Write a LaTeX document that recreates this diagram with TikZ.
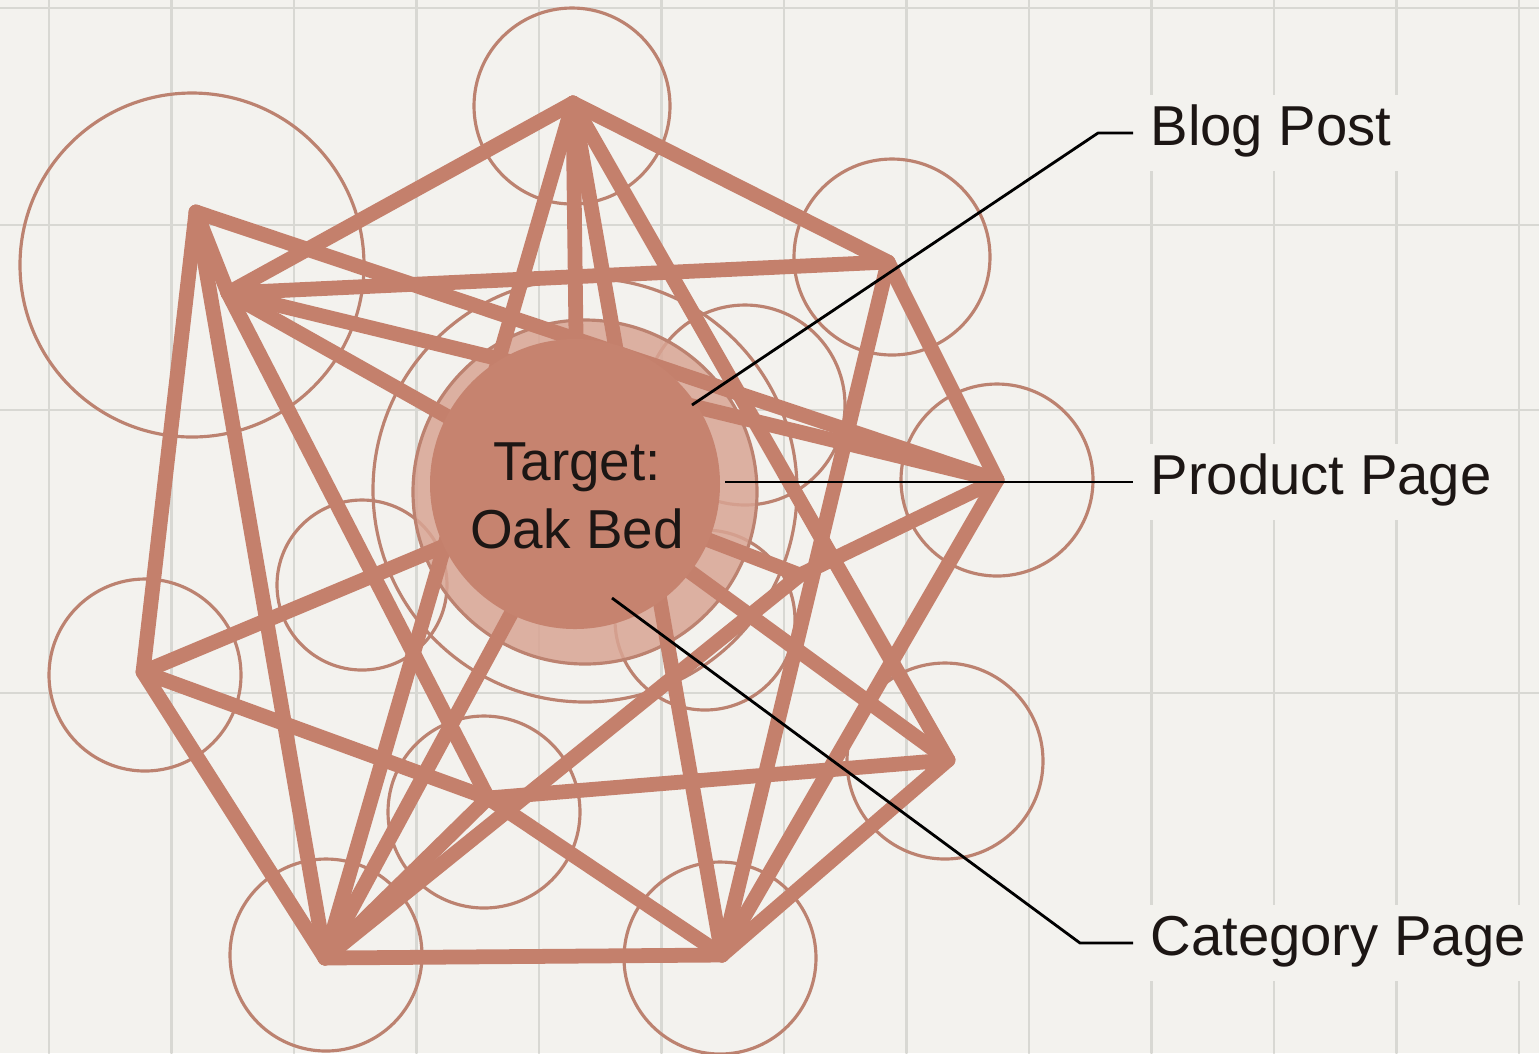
\documentclass[tikz,border=0pt]{standalone}
\usepackage{fontspec}
\setmainfont{Liberation Sans}
\definecolor{paper}{HTML}{F3F2EE}
\definecolor{gridline}{HTML}{D8D8D3}
\definecolor{copper}{HTML}{C4806C}
\definecolor{ringcol}{HTML}{BC8270}
\definecolor{corefill}{HTML}{C6836F}
\definecolor{halofill}{HTML}{D9A594}
\definecolor{inkdark}{HTML}{1C1614}
\tikzset{
	link/.style={copper, line width=4.2pt},
	ring/.style={ringcol, line width=0.9pt},
	leader/.style={black, line width=0.8pt, line cap=butt},
	pagelabel/.style={anchor=west, fill=paper, inner xsep=4.8pt, inner ysep=5pt,
		text height=0.95em, text depth=0.234em, font=\fontsize{16}{19}\selectfont, text=inkdark},
}

\begin{document}
\begin{tikzpicture}[line cap=round,line join=round,x=0.01cm,y=-0.01cm]
	\fill[paper] (0,0) rectangle (1539,1053);
	\useasboundingbox (0,0) rectangle (1539,1053);
	% grid
	\foreach \gx in {0,...,12} \draw[gridline, line width=0.6pt] ({49+122.5*\gx},0) -- ({49+122.5*\gx},1053);
	\foreach \gy in {8,225,410,693} \draw[gridline, line width=0.6pt] (0,\gy) -- (1539,\gy);

	% page points
	\coordinate (top) at (573,103);
	\coordinate (upleft) at (196,212);
	\coordinate (upleftin) at (228,293);
	\coordinate (upright) at (888,262);
	\coordinate (right) at (997,480);
	\coordinate (rightin) at (800,575);
	\coordinate (lowright) at (948,760);
	\coordinate (botright) at (722,955);
	\coordinate (botleft) at (325,958);
	\coordinate (left) at (143,672);
	\coordinate (mid) at (488,798);
	\coordinate (hub) at (578,490);

	% rings round the points
	\draw[ring] (572,106) circle (98);
	\draw[ring] (192,265) circle (172);
	\draw[ring] (892,257) circle (98);
	\draw[ring] (997,480) circle (96);
	\draw[ring] (145,675) circle (96);
	\draw[ring] (326,955) circle (96);
	\draw[ring] (720,958) circle (96);
	\draw[ring] (945,761) circle (98);
	\draw[ring] (484,812) circle (96);
	\draw[ring] (362,585) circle (85);
	\draw[ring] (745,405) circle (100);
	\draw[ring] (705,620) circle (90);
	\draw[ring] (585,490) circle (212);

	% halo
	\fill[halofill, opacity=0.85] (585,492) circle (172);
	\draw[ring] (585,492) circle (172);

	% links
	\draw[link] (top) -- (upright) -- (right) -- (rightin) -- (hub);
	\draw[link] (top) -- (upleftin) -- (upleft) -- (left) -- (botleft) -- (botright) -- (lowright) -- (mid) -- (left);
	\draw[link] (top) -- (hub);
	\draw[link] (top) -- (botleft);
	\draw[link] (top) -- (botright);
	\draw[link] (top) -- (lowright);
	\draw[link] (upleft) -- (botleft);
	\draw[link] (upleft) -- (right);
	\draw[link] (upleftin) -- (right);
	\draw[link] (upleftin) -- (upright);
	\draw[link] (upleftin) -- (hub);
	\draw[link] (upleftin) -- (mid);
	\draw[link] (upright) -- (botright);
	\draw[link] (right) -- (botright);
	\draw[link] (left) -- (hub);
	\draw[link] (botleft) -- (mid);
	\draw[link] (botleft) -- (hub);
	\draw[link] (botleft) -- (rightin);
	\draw[link] (mid) -- (botright);
	\draw[link] (lowright) -- (hub);

	% target
	\fill[corefill] (575,484) circle (145);
	\node[font=\fontsize{15.6}{19.3}\selectfont, text=inkdark, align=center] (target) at (577,496) {Target:\\Oak Bed};

	% leaders
	\coordinate (blogtip) at (692,405);
	\coordinate (blogbend) at (1098,133);
	\coordinate (prodtip) at (725,482);
	\coordinate (cattip) at (612,598);
	\coordinate (catbend) at (1080,943);
	\node[pagelabel] (blog) at (1133,133) {Blog Post};
	\node[pagelabel] (prod) at (1133,482) {Product Page};
	\node[pagelabel] (cat) at (1133,943) {Category Page};
	\draw[leader] (blogtip) -- (blogbend) -- (blog.west);
	\draw[leader] (prodtip) -- (prod.west);
	\draw[leader] (cattip) -- (catbend) -- (cat.west);
\end{tikzpicture}
\end{document}
